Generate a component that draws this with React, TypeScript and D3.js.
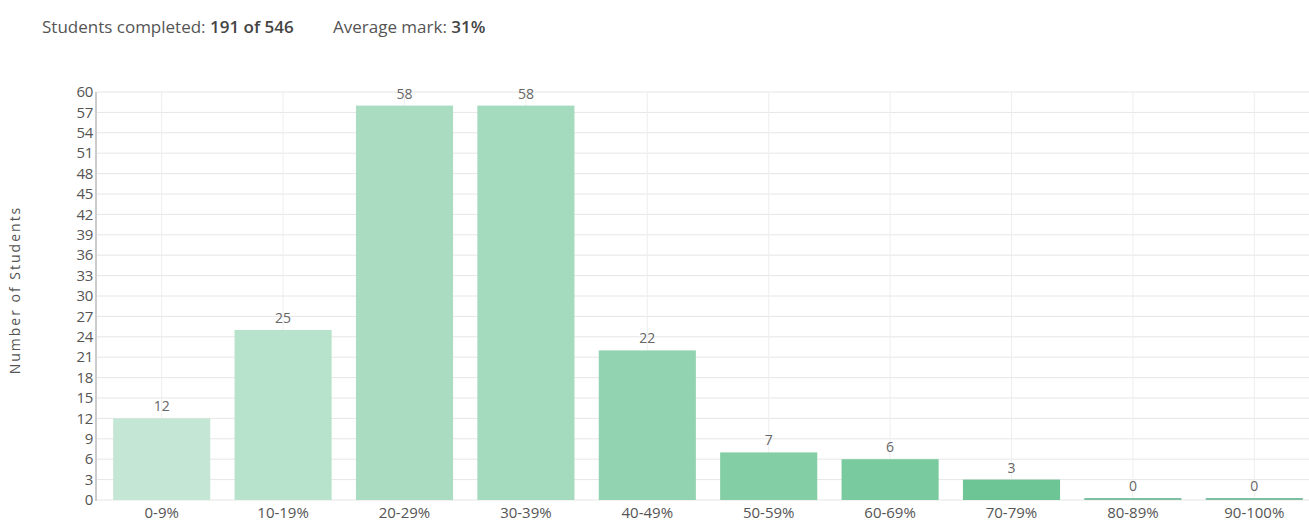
import React from "react";
import * as d3 from "d3";

const categories = ["0-9%", "10-19%", "20-29%", "30-39%", "40-49%", "50-59%", "60-69%", "70-79%", "80-89%", "90-100%"];
const counts = [12, 25, 58, 58, 22, 7, 6, 3, 0, 0];
const barColors = ["#c4e7d5", "#b7e2cb", "#a9dcc1", "#a4dabd", "#92d3b1", "#84cea5", "#7aca9f", "#6dc495", "#68c091", "#68c091"];
const yTicks = d3.range(0, 61, 3);
const completed = 191;
const totalStudents = 546;
const averageMark = 31;

const W = 1309;
const H = 522;

export default function App() {
  const x = d3.scaleBand<string>().domain(categories).range([101, 1315]).paddingInner(0.2).paddingOuter(0.1);
  const y = d3.scaleLinear().domain([0, 60]).range([500, 92]);
  const font = "'Open Sans', 'Noto Sans', sans-serif";
  return (
    <svg width={W} height={H} style={{ position: "absolute", left: 0, top: 0, background: "#fff" }} fontFamily={font}>
      <text x={42} y={33} fontSize={17} fill="#555">
        Students completed: <tspan fontWeight={600} fill="#444">{completed} of {totalStudents}</tspan>
      </text>
      <text x={333} y={33} fontSize={17} fill="#555">
        Average mark: <tspan fontWeight={600} fill="#444">{averageMark}%</tspan>
      </text>
      {yTicks.map((t) => (
        <line key={"h" + t} x1={97} x2={W} y1={y(t)} y2={y(t)} stroke="#e6e6e6" strokeWidth={1} />
      ))}
      {categories.map((c) => (
        <line key={"v" + c} x1={x(c)! + x.bandwidth() / 2} x2={x(c)! + x.bandwidth() / 2} y1={92} y2={500} stroke="#eeeeee" strokeWidth={1} />
      ))}
      <line x1={96} x2={96} y1={92} y2={501} stroke="#999" strokeWidth={1} />
      {yTicks.map((t) => (
        <text key={"yt" + t} x={93} y={y(t)} dy="0.35em" textAnchor="end" fontSize={15} fill="#555" letterSpacing={-0.3}>{t}</text>
      ))}
      <text transform={`translate(20, ${(195 + 385) / 2}) rotate(-90)`} textAnchor="middle" fontSize={14} letterSpacing={2} fill="#555">Number of Students</text>
      {categories.map((c, i) => {
        const v = counts[i];
        const bx = x(c)!;
        const by = y(v);
        const h = Math.max(y(0) - by, 2);
        return (
          <g key={"b" + c}>
            <rect x={bx} y={v === 0 ? y(0) - 2 : by} width={x.bandwidth()} height={h} fill={v === 0 ? "#7dbfa0" : barColors[i]} />
            <text x={bx + x.bandwidth() / 2} y={(v === 0 ? y(0) - 2 : by) - 7} textAnchor="middle" fontSize={14} fill="#666">{v}</text>
            <text x={bx + x.bandwidth() / 2} y={518} textAnchor="middle" fontSize={15} fill="#555">{c}</text>
          </g>
        );
      })}
    </svg>
  );
}
